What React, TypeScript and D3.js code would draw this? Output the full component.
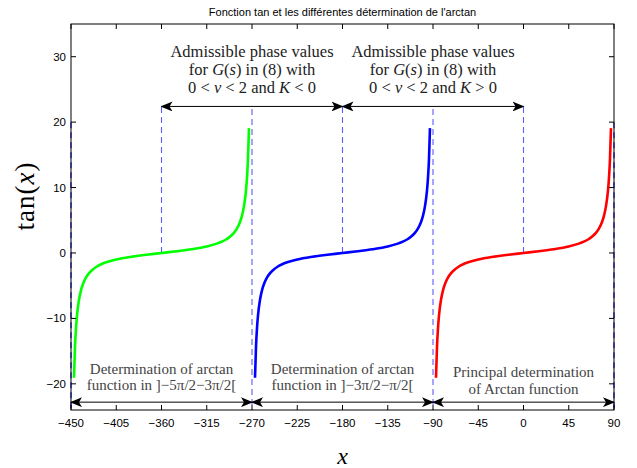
import * as React from 'react';
import * as d3 from 'd3';

// shape of one tan branch (offset from branch centre in degrees, value)
const branchOffsets = [-87, -86, -85, -84, -82, -80, -78, -75, -72, -68, -65, -60, -55, -45, -30, -15, 0, 15, 30, 45, 55, 60, 65, 68, 72, 75, 78, 80, 82, 84, 85, 86, 87];
const branchValues = [-19.08, -14.3, -11.43, -9.51, -7.12, -5.67, -4.7, -3.73, -3.08, -2.48, -2.14, -1.73, -1.43, -1, -0.58, -0.27, 0, 0.27, 0.58, 1, 1.43, 1.73, 2.14, 2.48, 3.08, 3.73, 4.7, 5.67, 7.12, 9.51, 11.43, 14.3, 19.08];
const branchCentres = [-360, -180, 0];
const branchColors = ['#00ff00', '#0000ff', '#ff0000'];

const xTicks = [-450, -405, -360, -315, -270, -225, -180, -135, -90, -45, 0, 45, 90];
const yTicks = [-20, -10, 0, 10, 20, 30];

// dashed guides: x, y from, y to
const guideX = [-450, -360, -270, -180, -90, 0, 90];
const guideFrom = [20, 0, 22, 0, 22, 0, 20];
const guideTo = [-24, 22.5, -24, 22.5, -24, 22.5, -24];
const guideColor = ['#0000ff', '#5c5cff', '#5c5cff', '#5c5cff', '#5c5cff', '#5c5cff', '#0000ff'];

const topArrows = [[-360, -180], [-180, 0]];
const topArrowY = 22.4;
const topSigns = ['<', '>'];
const topLabelX = [-270, -90];

const bottomArrows = [[-450, -270], [-270, -90], [-90, 90]];
const bottomArrowY = -22.8;
const bottomLabels = [
  ['Determination of arctan', 'function in ]−5π/2−3π/2['],
  ['Determination of arctan', 'function in ]−3π/2−π/2['],
  ['Principal determination', 'of Arctan function'],
];
const bottomLabelX = [-360, -180, 0];

// a line of mixed roman / italic runs: [text, italic]
type Run = [string, boolean];

export default function App() {
  const W = 637;
  const H = 468;
  const m = { top: 24, right: 23, bottom: 58, left: 71 };
  const iw = W - m.left - m.right;
  const ih = H - m.top - m.bottom;

  const x = d3.scaleLinear().domain([-450, 90]).range([0, iw]);
  const y = d3.scaleLinear().domain([-24, 35]).range([ih, 0]);

  const line = d3.line<[number, number]>()
    .x(d => x(d[0]))
    .y(d => y(d[1]))
    .curve(d3.curveMonotoneX);

  const serif = '"Liberation Serif", "DejaVu Serif", serif';
  const sans = '"Liberation Sans", Arial, sans-serif';
  const tickLen = 5;

  const runs = (rs: Run[]) => rs.map((r, k) => (
    <tspan key={k} fontStyle={r[1] ? 'italic' : 'normal'}>{r[0]}</tspan>
  ));

  return (
    <svg width={W} height={H} style={{ position: 'absolute', left: 0, top: 0, background: '#fff' }}>
      <defs>
        <marker id="ah" viewBox="0 0 12 10" refX="11" refY="5" markerWidth="12" markerHeight="10"
          markerUnits="userSpaceOnUse" orient="auto-start-reverse">
          <path d="M0,0 L12,5 L0,10 L3,5 Z" fill="#000" />
        </marker>
      </defs>
      <text x={m.left + iw / 2} y={16} textAnchor="middle" fontFamily={sans} fontSize={11}>
        Fonction tan et les différentes détermination de l'arctan
      </text>
      <g transform={`translate(${m.left},${m.top})`}>
        {guideX.map((gx, i) => (
          <line key={'g' + i} x1={x(gx)} x2={x(gx)} y1={y(guideFrom[i])} y2={y(guideTo[i])}
            stroke={guideColor[i]} strokeWidth={1.1} strokeDasharray="6,4" />
        ))}
        {branchCentres.map((c, i) => (
          <path key={'b' + i}
            d={line(branchOffsets.map((o, k) => [c + o, branchValues[k]] as [number, number])) || ''}
            fill="none" stroke={branchColors[i]} strokeWidth={2.6} />
        ))}
        {topArrows.map((a, i) => (
          <line key={'ta' + i} x1={x(a[0])} x2={x(a[1])} y1={y(topArrowY)} y2={y(topArrowY)}
            stroke="#000" strokeWidth={1} markerStart="url(#ah)" markerEnd="url(#ah)" />
        ))}
        {bottomArrows.map((a, i) => (
          <line key={'ba' + i} x1={x(a[0])} x2={x(a[1])} y1={y(bottomArrowY)} y2={y(bottomArrowY)}
            stroke="#000" strokeWidth={1} markerStart="url(#ah)" markerEnd="url(#ah)" />
        ))}
        {topLabelX.map((lx, i) => (
          <g key={'tl' + i} fontFamily={serif} fontSize={16.5} fill="#222" textAnchor="middle">
            <text x={x(lx)} y={33}>Admissible phase values</text>
            <text x={x(lx)} y={51}>
              {runs([['for ', false], ['G', true], ['(', false], ['s', true], [') in (8) with', false]])}
            </text>
            <text x={x(lx)} y={69}>
              {runs([['0 < ', false], ['ν', true], [' < 2 and ', false], ['K', true], [' ' + topSigns[i] + ' 0', false]])}
            </text>
          </g>
        ))}
        {bottomLabels.map((l, i) => (
          <g key={'bl' + i} fontFamily={serif} fontSize={15} fill="#444" textAnchor="middle">
            <text x={x(bottomLabelX[i])} y={i === 2 ? 353 : 350}>{l[0]}</text>
            <text x={x(bottomLabelX[i])} y={i === 2 ? 370 : 366}>{l[1]}</text>
          </g>
        ))}
        <rect x={0} y={0} width={iw} height={ih} fill="none" stroke="#000" strokeWidth={1} />
        {xTicks.map(t => (
          <g key={'x' + t}>
            <line x1={x(t)} x2={x(t)} y1={ih} y2={ih - tickLen} stroke="#000" />
            <line x1={x(t)} x2={x(t)} y1={0} y2={tickLen} stroke="#000" />
            <text x={x(t)} y={ih + 17} textAnchor="middle" fontFamily={sans} fontSize={11.5}>
              {t < 0 ? '−' + Math.abs(t) : t}
            </text>
          </g>
        ))}
        {yTicks.map(t => (
          <g key={'y' + t}>
            <line x1={0} x2={tickLen} y1={y(t)} y2={y(t)} stroke="#000" />
            <line x1={iw} x2={iw - tickLen} y1={y(t)} y2={y(t)} stroke="#000" />
            <text x={-5} y={y(t) + 4} textAnchor="end" fontFamily={sans} fontSize={11.5}>
              {t < 0 ? '−' + Math.abs(t) : t}
            </text>
          </g>
        ))}
        <text x={iw / 2} y={ih + 54} textAnchor="middle" fontFamily={serif} fontStyle="italic" fontSize={24}>x</text>
        <text transform={`translate(${-37},${196 - m.top}) rotate(-90)`} textAnchor="middle"
          fontFamily={serif} fontSize={27} letterSpacing={1}>
          {runs([['tan(', false], ['x', true], [')', false]])}
        </text>
      </g>
    </svg>
  );
}
